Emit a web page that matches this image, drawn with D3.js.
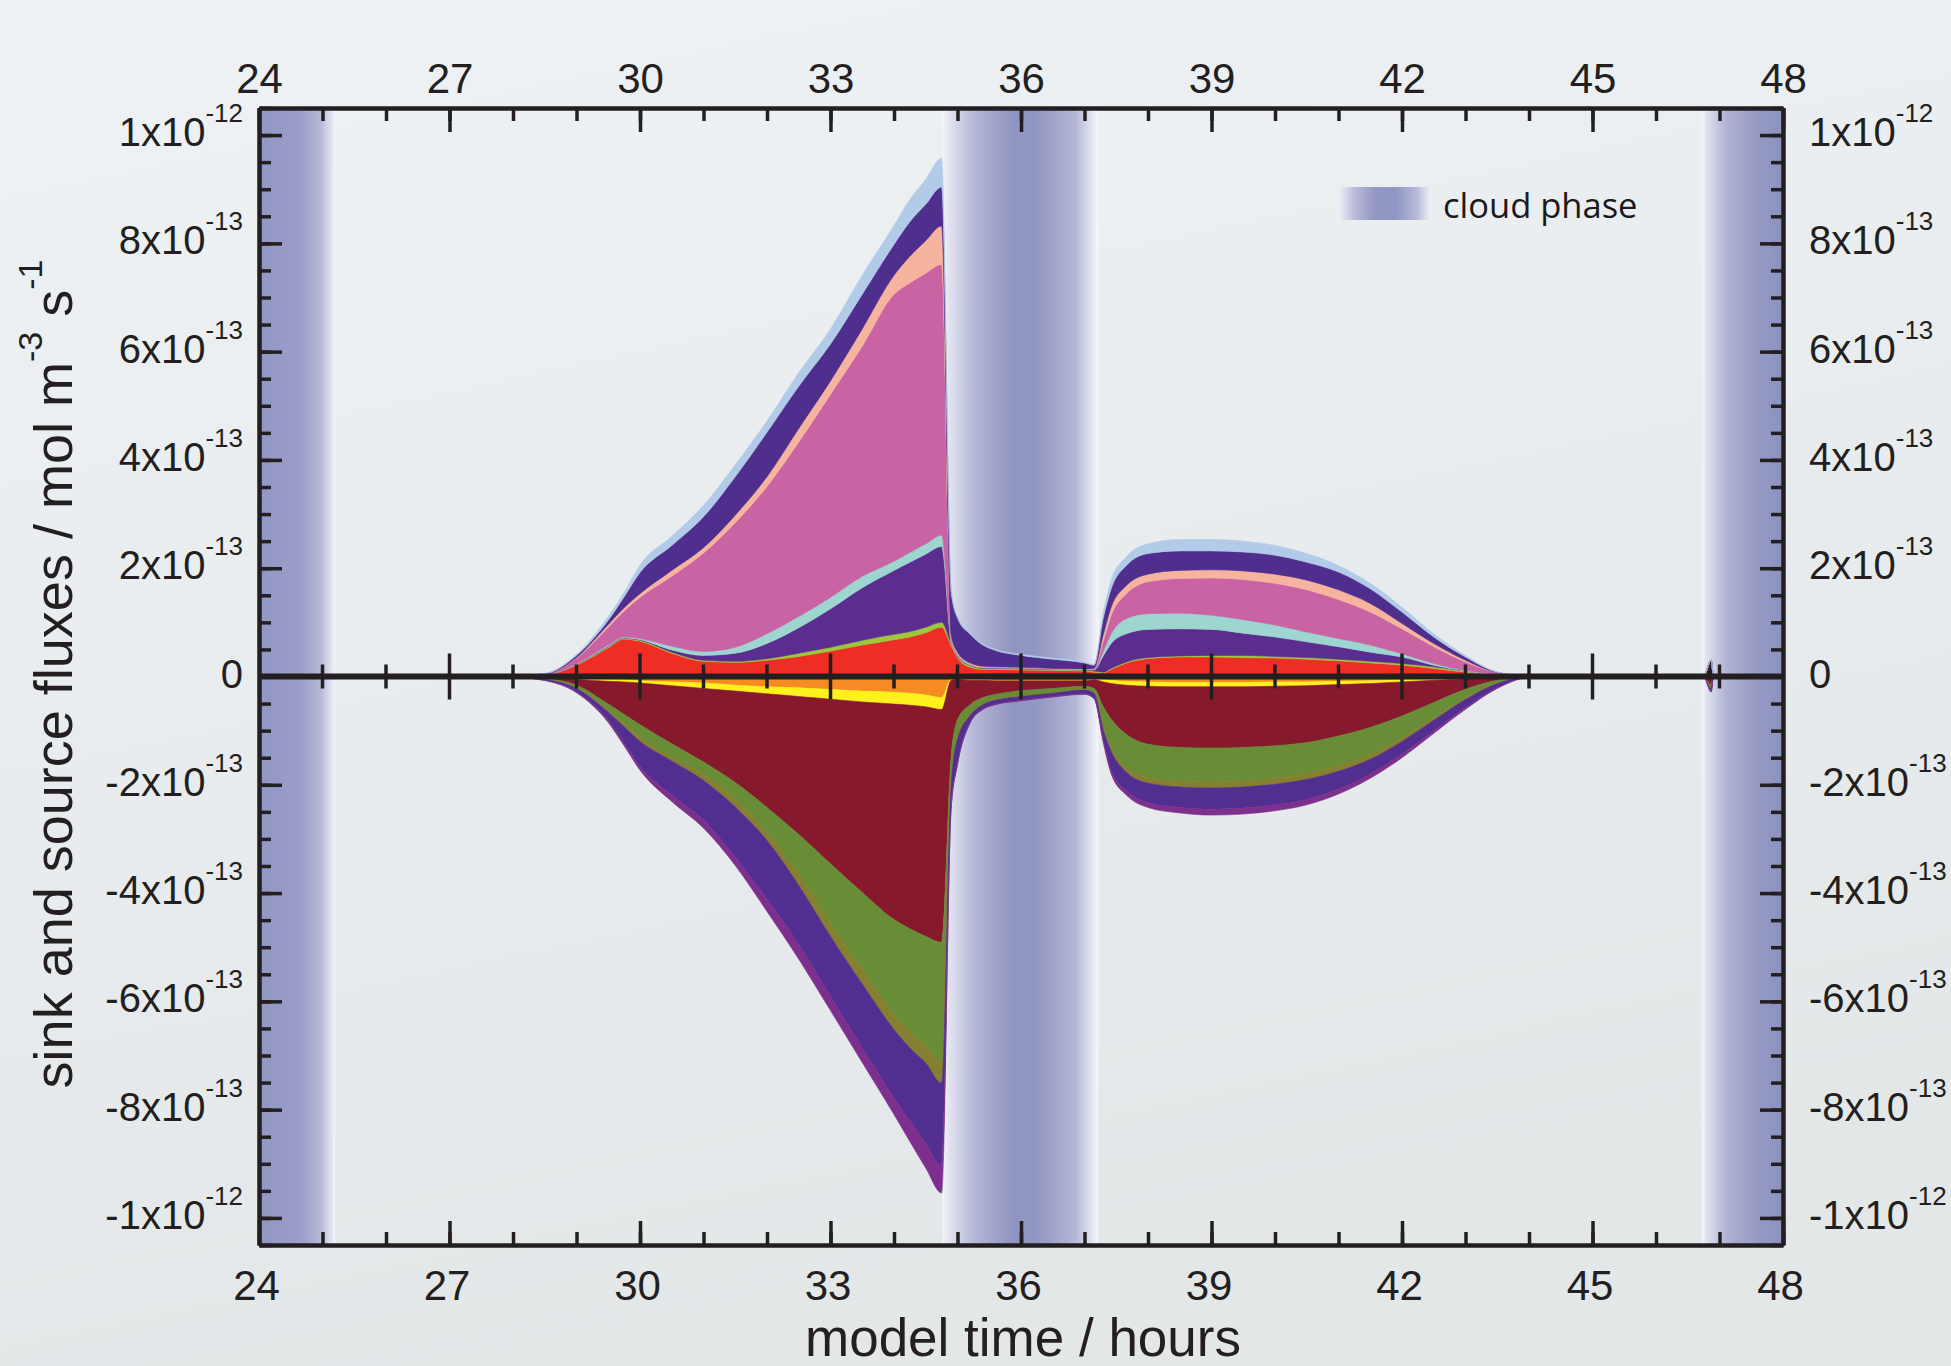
<!DOCTYPE html>
<html>
<head>
<meta charset="utf-8">
<script src="https://cdn.jsdelivr.net/npm/d3@7"></script>
<style>
  html, body { margin: 0; padding: 0; background: #e9edf0; }
  svg { display: block; }
</style>
</head>
<body>
<svg id="chart"></svg>
<script>
// model time (hours)
const hours = [24, 25, 26, 27, 28, 28.5, 29, 29.5, 29.75, 30,
  30.5, 31, 31.5, 32, 32.5, 33, 33.5, 34, 34.25, 34.5,
  34.75, 34.9, 35, 35.2, 35.4, 35.6, 36, 36.5, 37, 37.15,
  37.3, 37.42, 37.66, 38, 38.5, 39, 39.5, 40, 40.5, 41,
  41.5, 42, 42.5, 43, 43.5, 44, 45, 46, 46.75, 46.87,
  46.9, 47, 48];

// source fluxes, units of 1e-13 mol m-3 s-1 (stacked upwards in this order)
const blackSrc = [0.02, 0.02, 0.01, 0.01, 0.01, 0.01, 0.01, 0.01, 0.01, 0.01,
  0.01, 0.01, 0.01, 0.01, 0.01, 0.01, 0.01, 0.01, 0.01, 0.01,
  0.01, 0.02, 0.04, 0.05, 0.05, 0.06, 0.06, 0.06, 0.06, 0.04,
  0.01, 0.01, 0.01, 0.01, 0.01, 0.01, 0.01, 0.01, 0.01, 0.01,
  0.01, 0.01, 0.01, 0.01, 0.01, 0.005, 0.005, 0.005, 0.005, 0.29,
  0.05, 0, 0];
const red = [0, 0, 0, 0, 0.005, 0.02, 0.2, 0.52, 0.68, 0.64,
  0.42, 0.27, 0.25, 0.29, 0.36, 0.46, 0.57, 0.67, 0.72, 0.8,
  0.9, 0.55, 0.3, 0.12, 0.08, 0.07, 0.06, 0.05, 0.04, 0.04,
  0.06, 0.12, 0.24, 0.32, 0.35, 0.35, 0.34, 0.33, 0.31, 0.28,
  0.24, 0.2, 0.14, 0.07, 0.02, 0.005, 0, 0, 0, 0.01,
  0, 0, 0];
const yellowGreen = [0, 0, 0, 0, 0, 0, 0.01, 0.02, 0.01, 0.02,
  0.02, 0.02, 0.02, 0.03, 0.06, 0.07, 0.09, 0.1, 0.1, 0.1,
  0.09, 0.04, 0.03, 0.03, 0.02, 0.02, 0.02, 0.02, 0.02, 0.02,
  0.01, 0.02, 0.02, 0.02, 0.02, 0.03, 0.04, 0.03, 0.03, 0.03,
  0.03, 0.03, 0.03, 0.02, 0, 0, 0, 0, 0, 0,
  0, 0, 0];
const purpleSrc = [0, 0, 0, 0, 0, 0, 0, 0.01, 0.01, 0.01,
  0.04, 0.09, 0.15, 0.28, 0.47, 0.71, 0.97, 1.18, 1.28, 1.35,
  1.4, 0.03, 0.02, 0.01, 0.01, 0.01, 0.01, 0.01, 0.01, 0.02,
  0.31, 0.46, 0.52, 0.52, 0.5, 0.48, 0.41, 0.36, 0.29, 0.23,
  0.17, 0.12, 0.03, 0, 0, 0, 0, 0, 0, 0,
  0, 0, 0];
const teal = [0, 0, 0, 0, 0, 0, 0.01, 0.02, 0.02, 0.02,
  0.07, 0.07, 0.11, 0.18, 0.21, 0.21, 0.21, 0.17, 0.18, 0.19,
  0.21, 0.02, 0.01, 0.01, 0, 0, 0, 0, 0, 0.01,
  0.09, 0.18, 0.28, 0.29, 0.29, 0.26, 0.25, 0.22, 0.18, 0.15,
  0.13, 0.06, 0.03, 0.01, 0.01, 0, 0, 0, 0, 0,
  0, 0, 0];
const pink = [0, 0, 0, 0, 0, 0.01, 0.11, 0.33, 0.48, 0.76,
  1.29, 1.82, 2.3, 2.72, 3.22, 3.75, 4.25, 4.93, 4.98, 5.0,
  5.0, 0.05, 0.02, 0.01, 0.01, 0.01, 0.01, 0, 0, 0.01,
  0.19, 0.34, 0.46, 0.59, 0.64, 0.69, 0.74, 0.77, 0.78, 0.72,
  0.61, 0.46, 0.31, 0.16, 0.03, 0, 0, 0, 0, 0,
  0, 0, 0];
const salmon = [0, 0, 0, 0, 0, 0, 0.01, 0.05, 0.06, 0.07,
  0.11, 0.1, 0.14, 0.18, 0.25, 0.25, 0.32, 0.35, 0.49, 0.6,
  0.71, 0.05, 0.03, 0.02, 0.02, 0.01, 0.01, 0.01, 0.01, 0.01,
  0.12, 0.15, 0.15, 0.14, 0.15, 0.15, 0.16, 0.17, 0.18, 0.18,
  0.16, 0.1, 0.06, 0.03, 0, 0, 0, 0, 0, 0,
  0, 0, 0];
const darkPurple = [0, 0, 0, 0, 0, 0.01, 0.04, 0.08, 0.2, 0.39,
  0.46, 0.57, 0.71, 0.82, 0.78, 0.68, 0.64, 0.57, 0.64, 0.67,
  0.72, 0.8, 0.63, 0.53, 0.39, 0.3, 0.22, 0.17, 0.11, 0.06,
  0.31, 0.34, 0.37, 0.38, 0.36, 0.35, 0.35, 0.35, 0.33, 0.33,
  0.27, 0.21, 0.12, 0.06, 0.01, 0, 0, 0, 0, 0,
  0, 0, 0];
const lightBlue = [0, 0, 0, 0, 0, 0.01, 0.02, 0.07, 0.08, 0.14,
  0.17, 0.21, 0.22, 0.21, 0.25, 0.28, 0.35, 0.35, 0.41, 0.46,
  0.53, 0.04, 0.03, 0.02, 0.02, 0.02, 0.02, 0.02, 0.02, 0.01,
  0.12, 0.16, 0.16, 0.18, 0.21, 0.21, 0.2, 0.18, 0.16, 0.12,
  0.1, 0.09, 0.06, 0.03, 0, 0, 0, 0, 0, 0,
  0, 0, 0];

// sink fluxes (negative, stacked downwards in this order)
const blackSink = [-0.02, -0.02, -0.01, -0.01, -0.01, -0.01, -0.01, -0.01, -0.01, -0.01,
  -0.01, -0.01, -0.01, -0.01, -0.01, -0.01, -0.01, -0.01, -0.01, -0.01,
  -0.01, -0.02, -0.03, -0.05, -0.05, -0.06, -0.06, -0.06, -0.06, -0.04,
  -0.01, -0.01, -0.01, -0.01, -0.01, -0.01, -0.01, -0.01, -0.01, -0.01,
  -0.01, -0.01, -0.01, -0.01, -0.01, -0.005, -0.005, -0.005, -0.005, -0.03,
  0, 0, 0];
const orange = [0, 0, 0, 0, 0, -0.005, -0.02, -0.04, -0.05, -0.07,
  -0.09, -0.11, -0.15, -0.18, -0.2, -0.23, -0.26, -0.28, -0.3, -0.33,
  -0.38, -0.03, -0.01, -0.01, -0.01, -0.01, -0.01, -0.01, -0.01, -0.01,
  -0.04, -0.06, -0.08, -0.09, -0.1, -0.1, -0.1, -0.09, -0.09, -0.08,
  -0.07, -0.05, -0.03, -0.015, -0.005, 0, 0, 0, 0, 0,
  0, 0, 0];
const yellow = [0, 0, 0, 0, 0, -0.005, -0.02, -0.04, -0.04, -0.04,
  -0.07, -0.1, -0.11, -0.13, -0.16, -0.18, -0.2, -0.22, -0.22, -0.22,
  -0.22, -0.02, -0.01, -0.01, -0.01, -0.01, -0.01, -0.01, -0.01, -0.01,
  -0.05, -0.06, -0.07, -0.08, -0.08, -0.08, -0.08, -0.08, -0.07, -0.06,
  -0.05, -0.04, -0.03, -0.02, -0.005, 0, 0, 0, 0, 0,
  0, 0, 0];
const darkRed = [0, 0, 0, 0, -0.005, -0.02, -0.11, -0.42, -0.6, -0.77,
  -1.07, -1.36, -1.69, -2.1, -2.55, -3.04, -3.52, -3.98, -4.13, -4.24,
  -4.3, -1.4, -0.75, -0.45, -0.32, -0.25, -0.18, -0.14, -0.1, -0.16,
  -0.47, -0.66, -0.91, -1.07, -1.12, -1.13, -1.12, -1.1, -1.05, -0.95,
  -0.81, -0.63, -0.41, -0.19, -0.05, 0, 0, 0, 0, -0.12,
  -0.02, 0, 0];
const green = [0, 0, 0, 0, 0, -0.01, -0.05, -0.11, -0.17, -0.23,
  -0.26, -0.23, -0.31, -0.46, -0.73, -1.11, -1.42, -1.76, -1.9, -2.02,
  -2.22, -0.5, -0.33, -0.18, -0.12, -0.1, -0.1, -0.08, -0.06, -0.08,
  -0.37, -0.52, -0.61, -0.62, -0.62, -0.63, -0.62, -0.6, -0.57, -0.55,
  -0.5, -0.4, -0.28, -0.16, -0.05, -0.005, 0, 0, 0, -0.08,
  -0.01, 0, 0];
const olive = [0, 0, 0, 0, 0, -0.005, -0.01, -0.04, -0.06, -0.08,
  -0.06, -0.11, -0.14, -0.15, -0.21, -0.23, -0.27, -0.27, -0.3, -0.32,
  -0.38, -0.04, -0.03, -0.02, -0.01, -0.01, -0.01, -0.01, -0.01, -0.01,
  -0.06, -0.07, -0.09, -0.1, -0.11, -0.11, -0.11, -0.11, -0.11, -0.1,
  -0.09, -0.07, -0.05, -0.03, -0.01, 0, 0, 0, 0, 0,
  0, 0, 0];
const purpleSink = [0, 0, 0, 0, 0, -0.015, -0.06, -0.15, -0.3, -0.46,
  -0.63, -0.73, -0.93, -1.08, -1.09, -1.11, -1.18, -1.26, -1.35, -1.48,
  -1.54, -0.4, -0.45, -0.12, -0.08, -0.07, -0.07, -0.06, -0.07, -0.09,
  -0.19, -0.36, -0.34, -0.36, -0.38, -0.39, -0.39, -0.38, -0.37, -0.33,
  -0.27, -0.23, -0.19, -0.15, -0.08, -0.005, 0, 0, 0, -0.05,
  -0.01, 0, 0];
const magenta = [0, 0, 0, 0, 0, -0.005, -0.02, -0.04, -0.05, -0.07,
  -0.12, -0.15, -0.15, -0.23, -0.27, -0.26, -0.27, -0.31, -0.38, -0.46,
  -0.49, -0.03, -0.02, -0.02, -0.01, -0.01, -0.01, -0.01, -0.01, -0.01,
  -0.06, -0.06, -0.08, -0.09, -0.1, -0.11, -0.11, -0.11, -0.1, -0.09,
  -0.08, -0.07, -0.05, -0.03, -0.01, -0.005, 0, 0, 0, 0,
  0, 0, 0];

// cloud phases (hours)
const cloudStart = [24, 34.76, 46.72];
const cloudEnd = [25.2, 37.22, 48];

// axis ticks
const xMajor = [24, 27, 30, 33, 36, 39, 42, 45, 48];
const yMajor = [10, 8, 6, 4, 2, 0, -2, -4, -6, -8, -10];   // x 1e-13

const sources = {blackSrc, red, yellowGreen, purpleSrc, teal, pink, salmon, darkPurple, lightBlue};
const sinks = {blackSink, orange, yellow, darkRed, green, olive, purpleSink, magenta};

const colors = {
  blackSrc: "#231f20", red: "#ee2e25", yellowGreen: "#9cc93b", purpleSrc: "#5b2d8e",
  teal: "#9dd5d1", pink: "#c963a4", salmon: "#f6b49e", darkPurple: "#4f2e8e",
  lightBlue: "#b2cbe8",
  blackSink: "#231f20", orange: "#f58b22", yellow: "#fff11d", darkRed: "#861a2c",
  green: "#698c37", olive: "#867f2f", purpleSink: "#532e91", magenta: "#7c2f8d"
};

const W = 1951, H = 1366;
const margin = {top: 108, right: 168, bottom: 121, left: 259};
const width = W - margin.left - margin.right;
const height = H - margin.top - margin.bottom;
const ink = "#231f20";
const numFont = "'Liberation Sans', Arial, Helvetica, sans-serif";

const svg = d3.select("#chart").attr("width", W).attr("height", H);
const defs = svg.append("defs");

const bg = defs.append("linearGradient").attr("id", "bg")
  .attr("x1", 0).attr("y1", 0).attr("x2", 0.3).attr("y2", 1);
bg.append("stop").attr("offset", 0).attr("stop-color", "#eef2f5");
bg.append("stop").attr("offset", 1).attr("stop-color", "#e3e7e8");
svg.append("rect").attr("width", W).attr("height", H).attr("fill", "url(#bg)");

// gradient stops for the three cloud bands (left -> right)
const bandStops = [
  [[0, "#9296c3"], [0.55, "#9a9ec8"], [0.8, "#b4b7d7"], [0.95, "#e2e3f0"], [1, "#f6f7fa"]],
  [[0, "#f4f5f9"], [0.04, "#e3e4f0"], [0.2, "#b5b8d7"], [0.45, "#8f94c0"], [0.6, "#9196c2"],
   [0.85, "#b3b6d6"], [0.96, "#e4e5f0"], [1, "#f7f7fa"]],
  [[0, "#f6f7fa"], [0.06, "#e0e1ee"], [0.3, "#b0b3d4"], [0.7, "#9499c4"], [1, "#8d91bf"]]
];
bandStops.forEach((stops, i) => {
  const lg = defs.append("linearGradient").attr("id", "band" + i)
    .attr("x1", 0).attr("x2", 1).attr("y1", 0).attr("y2", 0);
  stops.forEach(s => lg.append("stop").attr("offset", s[0]).attr("stop-color", s[1]));
});
const legGrad = defs.append("linearGradient").attr("id", "legendGrad")
  .attr("x1", 0).attr("x2", 1).attr("y1", 0).attr("y2", 0);
[[0, "#f0f1f7"], [0.18, "#b8bbd9"], [0.4, "#9297c3"], [0.62, "#9095c2"], [0.85, "#b8bbd9"], [1, "#f0f1f7"]]
  .forEach(s => legGrad.append("stop").attr("offset", s[0]).attr("stop-color", s[1]));

defs.append("clipPath").attr("id", "plotClip")
  .append("rect").attr("width", width).attr("height", height);

const g = svg.append("g").attr("transform", `translate(${margin.left},${margin.top})`);

const x = d3.scaleLinear().domain([24, 48]).range([0, width]);
const y = d3.scaleLinear().domain([-10.5, 10.5]).range([height, 0]);

// cloud phase bands
g.selectAll(".cloud")
  .data(cloudStart.map((s, i) => ({s, e: cloudEnd[i], i})))
  .enter().append("rect")
  .attr("class", "cloud")
  .attr("x", d => x(d.s))
  .attr("width", d => x(d.e) - x(d.s))
  .attr("y", 0)
  .attr("height", height)
  .attr("fill", d => `url(#band${d.i})`);

// stacked fluxes
function buildRows(series) {
  return hours.map((h, i) => {
    const r = {hour: h};
    Object.keys(series).forEach(k => r[k] = series[k][i]);
    return r;
  });
}
const srcLayers = d3.stack().keys(Object.keys(sources))(buildRows(sources));
const sinkLayers = d3.stack().keys(Object.keys(sinks))(buildRows(sinks));

const fluxArea = d3.area()
  .curve(d3.curveMonotoneX)
  .x(d => x(d.data.hour))
  .y0(d => y(d[0]))
  .y1(d => y(d[1]));

const layerG = g.append("g").attr("clip-path", "url(#plotClip)");
layerG.selectAll(".layer")
  .data(srcLayers.concat(sinkLayers))
  .enter().append("path")
  .attr("class", "layer")
  .attr("d", fluxArea)
  .attr("fill", d => colors[d.key])
  .attr("stroke", d => colors[d.key])
  .attr("stroke-width", 0.6);

// zero line with its ticks
g.append("line")
  .attr("x1", x(24)).attr("x2", x(48))
  .attr("y1", y(0)).attr("y2", y(0))
  .attr("stroke", ink).attr("stroke-width", 6);
g.selectAll(".zeroTick")
  .data(d3.range(25, 48))
  .enter().append("line")
  .attr("class", "zeroTick")
  .attr("x1", d => x(d)).attr("x2", d => x(d))
  .attr("y1", d => y(0) - (d % 3 === 0 ? 23 : 12))
  .attr("y2", d => y(0) + (d % 3 === 0 ? 23 : 12))
  .attr("stroke", ink).attr("stroke-width", 3.5);

// axes
function styleAxis(sel) {
  sel.select(".domain").attr("stroke", ink).attr("stroke-width", 4);
  sel.selectAll(".tick line").attr("stroke", ink).attr("stroke-width", 3.5);
  sel.selectAll(".tick text").attr("fill", ink)
    .attr("font-family", numFont).attr("font-size", 42);
  sel.attr("font-family", null).attr("font-size", null);
}
const xMinor = d3.range(24, 49);
const yMinor = d3.range(-21, 22).map(v => v / 2);

g.append("g").attr("transform", `translate(0,${height})`)
  .call(d3.axisBottom(x).tickValues(xMinor).tickSizeInner(-13).tickSizeOuter(0).tickFormat(""))
  .call(styleAxis);
g.append("g").attr("transform", `translate(-3,${height})`)
  .call(d3.axisBottom(x).tickValues(xMajor).tickSizeInner(-24).tickSizeOuter(0).tickPadding(25))
  .call(styleAxis)
  .call(a => a.selectAll(".tick line").attr("transform", "translate(3,0)"))
  .call(a => a.select(".domain").attr("transform", "translate(3,0)"));
g.append("g")
  .call(d3.axisTop(x).tickValues(xMinor).tickSizeInner(-13).tickSizeOuter(0).tickFormat(""))
  .call(styleAxis);
g.append("g")
  .call(d3.axisTop(x).tickValues(xMajor).tickSizeInner(-24).tickSizeOuter(0).tickPadding(15))
  .call(styleAxis);

g.append("g")
  .call(d3.axisLeft(y).tickValues(yMinor).tickSizeInner(-12).tickSizeOuter(0).tickFormat(""))
  .call(styleAxis);
g.append("g")
  .call(d3.axisLeft(y).tickValues(yMajor).tickSizeInner(-23).tickSizeOuter(0).tickFormat(""))
  .call(styleAxis);
g.append("g").attr("transform", `translate(${width},0)`)
  .call(d3.axisRight(y).tickValues(yMinor).tickSizeInner(-12).tickSizeOuter(0).tickFormat(""))
  .call(styleAxis);
g.append("g").attr("transform", `translate(${width},0)`)
  .call(d3.axisRight(y).tickValues(yMajor).tickSizeInner(-23).tickSizeOuter(0).tickFormat(""))
  .call(styleAxis);

// y tick labels like 8x10^-13
function yLabel(sel, v) {
  if (v === 0) { sel.append("tspan").text("0"); return; }
  const big = Math.abs(v) >= 10;
  sel.append("tspan").text(`${big ? v / 10 : v}x10`);
  sel.append("tspan").attr("dy", -24).attr("font-size", 26).text(big ? "-12" : "-13");
}
[{side: "left", xp: -16, anchor: "end"}, {side: "right", xp: width + 26, anchor: "start"}].forEach(s => {
  g.selectAll(".ylab-" + s.side)
    .data(yMajor)
    .enter().append("text")
    .attr("class", "ylab-" + s.side)
    .attr("x", s.xp)
    .attr("y", d => y(d) + 11)
    .attr("text-anchor", s.anchor)
    .attr("font-family", numFont)
    .attr("font-size", 40)
    .attr("fill", ink)
    .each(function(d) { yLabel(d3.select(this), d); });
});

// axis titles
svg.append("text")
  .attr("x", 1023).attr("y", 1356)
  .attr("text-anchor", "middle")
  .attr("font-family", numFont).attr("font-size", 53).attr("fill", ink)
  .text("model time / hours");

const yt = svg.append("text")
  .attr("transform", "translate(72,674) rotate(-90)")
  .attr("text-anchor", "middle")
  .attr("font-family", numFont).attr("font-size", 54).attr("fill", ink);
yt.append("tspan").text("sink and source fluxes / mol m");
yt.append("tspan").attr("dy", -30).attr("font-size", 34).text("-3");
yt.append("tspan").attr("dy", 30).text(" s");
yt.append("tspan").attr("dy", -30).attr("font-size", 34).text("-1");

// legend
svg.append("rect")
  .attr("x", 1338).attr("y", 187).attr("width", 93).attr("height", 33)
  .attr("fill", "url(#legendGrad)");
svg.append("text")
  .attr("x", 1443).attr("y", 218)
  .attr("font-family", "'Open Sans', 'Noto Sans', sans-serif")
  .attr("font-size", 34.5).attr("fill", "#1a1a1a")
  .text("cloud phase");
</script>
</body>
</html>
